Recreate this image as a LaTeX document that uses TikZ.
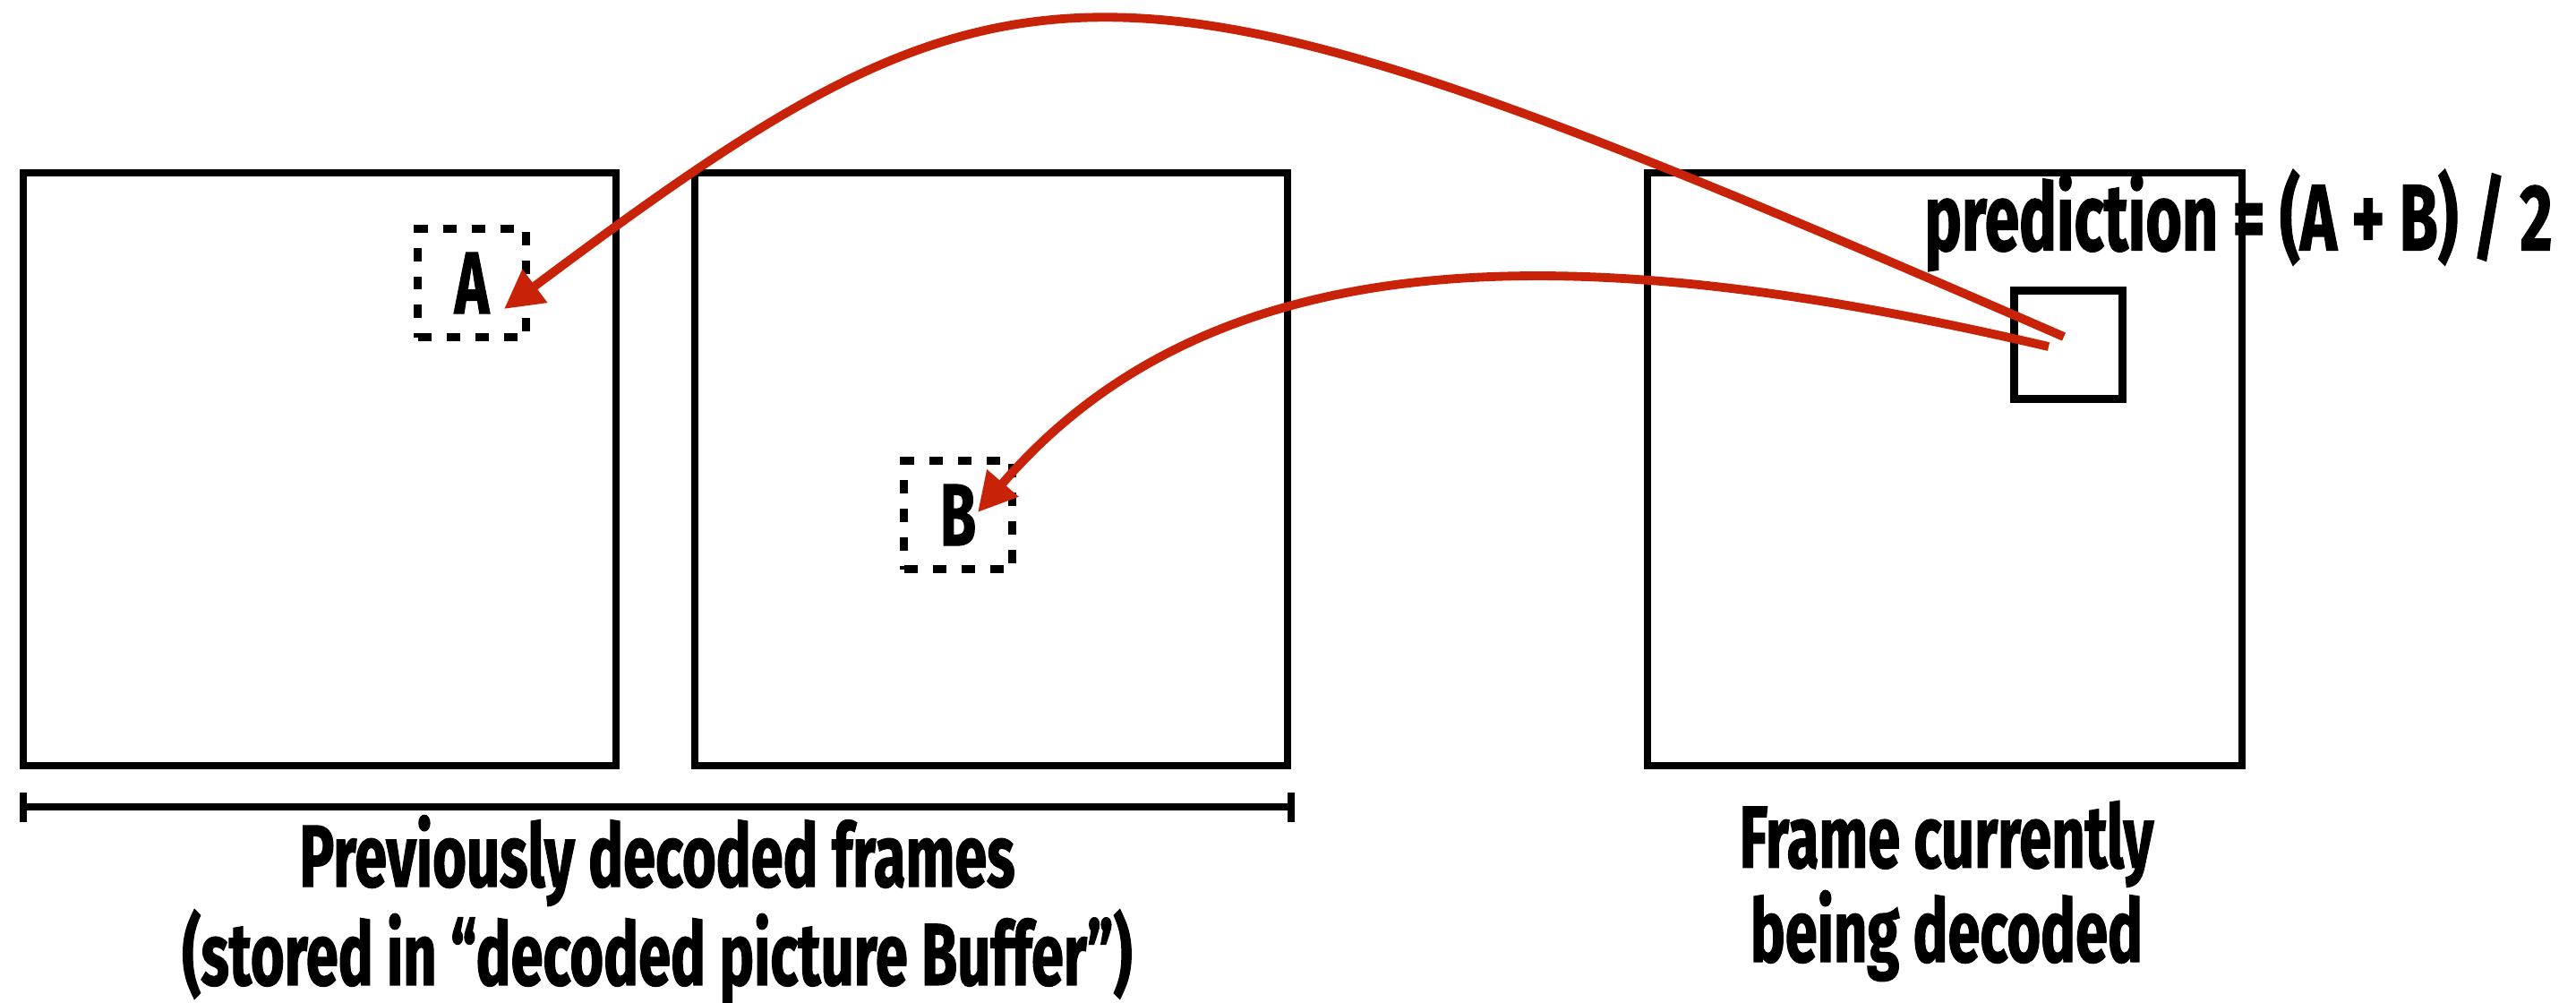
\documentclass[tikz,border=0pt]{standalone}
\usepackage{fontspec}
\setmainfont{Fira Sans}[FakeStretch=0.66,BoldFeatures={FakeBold=1.2}]
\usetikzlibrary{arrows.meta,calc,positioning}
\definecolor{mvred}{RGB}{200,34,8}

\begin{document}
\begin{tikzpicture}[>=Triangle,
  frame/.style={draw,line width=2.4pt,minimum size=6.62cm,inner sep=0pt},
  refblk/.style={draw,line width=2.4pt,dash pattern=on 0.15cm off 0.17cm,minimum size=1.21cm,inner sep=0pt,
    font=\bfseries\fontsize{28}{30}\selectfont},
  curblk/.style={draw,line width=2.4pt,minimum size=1.21cm,inner sep=0pt},
  mv/.style={line width=2.8pt,mvred,-{Triangle[length=0.43cm,width=0.44cm]}},
  lbl/.style={align=center,inner sep=0pt,font=\bfseries\fontsize{28}{27}\selectfont}]
\useasboundingbox (0,0) rectangle (28.77,-11.19);
% reference frames and the frame being decoded
\node[frame] (f1) at (3.57,-5.24) {};
\node[frame] (f2) at (11.07,-5.24) {};
\node[frame,minimum width=6.64cm] (f3) at (21.72,-5.24) {};
\node[refblk] (A) at (5.27,-3.16) {A};
\node[refblk] (B) at (10.70,-5.75) {B};
\node[curblk] (cur) at (23.10,-3.85) {};
\node[font=\bfseries\fontsize{30}{32}\selectfont] (pred) at (25.00,-2.46) {prediction = (A + B) / 2};
% motion vectors
\coordinate (sA) at (23.05,-3.76);
\coordinate (sB) at (22.88,-3.87);
\coordinate (tA) at ($(A.center)+(0.36,-0.29)$);
\coordinate (tB) at ($(B.center)+(0.22,0.03)$);
\draw[mv] (sA) .. controls (12.35,0.90) and (11.45,0.90) .. (tA);
\draw[mv] (sB) .. controls (17.70,-2.66) and (13.60,-2.60) .. (tB);
% decoded picture buffer
\coordinate (b1) at ($(f1.south west)+(0,-0.42)$);
\coordinate (b2) at ($(f2.south east)+(0.04,-0.42)$);
\draw[line width=2.2pt,{Bar[width=0.33cm]}-{Bar[width=0.33cm]}] (b1) -- (b2);
\node[lbl] (prev) at (7.34,-10.16) {Previously decoded frames\\(stored in “decoded picture Buffer”)};
\node[lbl] (curlbl) at (21.74,-9.95) {Frame currently\\being decoded};
\end{tikzpicture}
\end{document}
